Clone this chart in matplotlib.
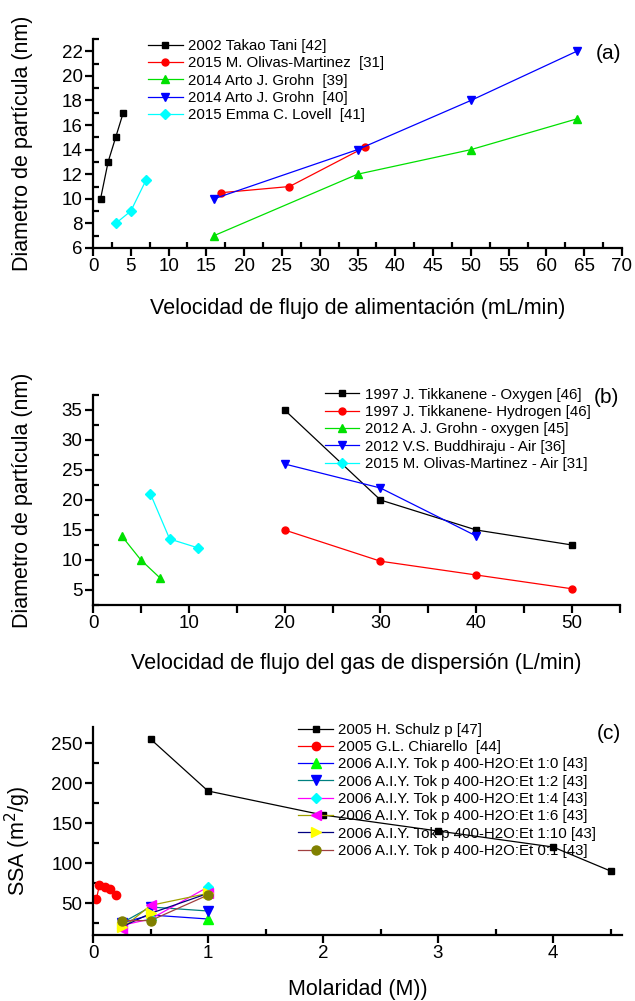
import matplotlib
matplotlib.use('Agg')
import matplotlib.pyplot as plt
from matplotlib.ticker import MultipleLocator

plt.rcParams['font.family'] = ['Liberation Sans', 'DejaVu Sans']

# (a) velocidad de flujo de alimentacion
tani_x = [1, 2, 3, 4]
tani_y = [10, 13, 15, 17]
olivas_x = [17, 26, 36]
olivas_y = [10.5, 11, 14.2]
grohn39_x = [16, 35, 50, 64]
grohn39_y = [7, 12, 14, 16.5]
grohn40_x = [16, 35, 50, 64]
grohn40_y = [10, 14, 18, 22]
lovell_x = [3, 5, 7]
lovell_y = [8, 9, 11.5]

# (b) velocidad de flujo del gas de dispersion
tikk_o2_x = [20, 30, 40, 50]
tikk_o2_y = [35, 20, 15, 12.5]
tikk_h2_x = [20, 30, 40, 50]
tikk_h2_y = [15, 9.8, 7.5, 5.2]
grohn_o2_x = [3, 5, 7]
grohn_o2_y = [14, 10, 7]
buddhi_x = [20, 30, 40]
buddhi_y = [26, 22, 14]
olivas_air_x = [6, 8, 11]
olivas_air_y = [21, 13.5, 12]

# (c) molaridad
schulz_x = [0.5, 1, 2, 3, 4, 4.5]
schulz_y = [255, 190, 160, 140, 120, 90]
chiarello_x = [0.03, 0.055, 0.1, 0.15, 0.2]
chiarello_y = [55, 72, 70, 68, 60]
tok_x = [0.25, 0.5, 1]
tok_10 = [25, 35, 30]
tok_12 = [25, 45, 40]
tok_14 = [22, 30, 70]
tok_16 = [18, 47, 62]
tok_110 = [20, 37, 62]
tok_01 = [28, 28, 60]

fig = plt.figure(figsize=(6.35, 10.01), dpi=100)

W = 635.0
H = 1001.0


def make_axes(left, top, right, bottom):
    return fig.add_axes([left / W, 1 - bottom / H, (right - left) / W, (bottom - top) / H])


def style(ax):
    for s in ['top', 'right']:
        ax.spines[s].set_visible(False)
    for s in ['left', 'bottom']:
        ax.spines[s].set_linewidth(1.6)
    ax.tick_params(which='major', direction='out', length=5.5, width=1.6, labelsize=13.5, pad=2)
    ax.tick_params(which='minor', direction='in', length=4, width=1.6)


def line(ax, x, y, color, marker, ms, label, mfc=None):
    ax.plot(x, y, color=color, marker=marker, markersize=ms, lw=0.9,
            markerfacecolor=mfc or color, markeredgecolor=mfc or color, label=label)


leg_kw = dict(frameon=False, fontsize=10.8, handlelength=2.3, handletextpad=0.35,
              labelspacing=0.22, numpoints=1, borderaxespad=0, borderpad=0)

# ---- panel a
ax1 = make_axes(93, 39, 622, 248)
style(ax1)
line(ax1, tani_x, tani_y, 'black', 's', 4.5, '2002 Takao Tani [42]')
line(ax1, olivas_x, olivas_y, '#FF0000', 'o', 5, '2015 M. Olivas-Martinez  [31]')
line(ax1, grohn39_x, grohn39_y, '#00E000', '^', 6, '2014 Arto J. Grohn  [39]')
line(ax1, grohn40_x, grohn40_y, '#0000FF', 'v', 6, '2014 Arto J. Grohn  [40]')
line(ax1, lovell_x, lovell_y, '#00FFFF', 'D', 5, '2015 Emma C. Lovell  [41]')
ax1.set_xlim(0, 70)
ax1.set_ylim(6, 23)
ax1.xaxis.set_major_locator(MultipleLocator(5))
ax1.xaxis.set_minor_locator(MultipleLocator(2.5))
ax1.yaxis.set_major_locator(MultipleLocator(2))
ax1.yaxis.set_minor_locator(MultipleLocator(1))
ax1.set_xlabel('Velocidad de flujo de alimentación (mL/min)', fontsize=15.5)
ax1.set_ylabel('Diametro de partícula (nm)', fontsize=15.5)
ax1.xaxis.set_label_coords(0.5, -0.24)
ax1.yaxis.set_label_coords(-0.113, 0.5)
ax1.legend(loc='upper left', bbox_to_anchor=(0.104, 1.0), **leg_kw)
ax1.text(0.975, 0.93, '(a)', transform=ax1.transAxes, fontsize=15, ha='center', va='center')

# ---- panel b
ax2 = make_axes(93, 395, 620, 605)
style(ax2)
line(ax2, tikk_o2_x, tikk_o2_y, 'black', 's', 4.5, '1997 J. Tikkanene - Oxygen [46]')
line(ax2, tikk_h2_x, tikk_h2_y, '#FF0000', 'o', 5, '1997 J. Tikkanene- Hydrogen [46]')
line(ax2, grohn_o2_x, grohn_o2_y, '#00E000', '^', 6, '2012 A. J. Grohn - oxygen [45]')
line(ax2, buddhi_x, buddhi_y, '#0000FF', 'v', 6, '2012 V.S. Buddhiraju - Air [36]')
line(ax2, olivas_air_x, olivas_air_y, '#00FFFF', 'D', 5, '2015 M. Olivas-Martinez - Air [31]')
ax2.set_xlim(0, 55)
ax2.set_ylim(2.5, 37.5)
ax2.set_xticks(list(range(0, 56, 5)))
ax2.set_xticklabels([str(v) if v % 10 == 0 else '' for v in range(0, 56, 5)])
ax2.yaxis.set_minor_locator(MultipleLocator(2.5))
ax2.set_yticks([5, 10, 15, 20, 25, 30, 35])
ax2.set_xlabel('Velocidad de flujo del gas de dispersión (L/min)', fontsize=15.5)
ax2.set_ylabel('Diametro de partícula (nm)', fontsize=15.5)
ax2.xaxis.set_label_coords(0.5, -0.23)
ax2.yaxis.set_label_coords(-0.113, 0.5)
ax2.legend(loc='upper left', bbox_to_anchor=(0.44, 1.035), **leg_kw)
ax2.text(0.975, 0.99, '(b)', transform=ax2.transAxes, fontsize=15, ha='center', va='center')

# ---- panel c
ax3 = make_axes(93, 727, 622, 935)
style(ax3)
line(ax3, schulz_x, schulz_y, 'black', 's', 5, '2005 H. Schulz p [47]')
line(ax3, chiarello_x, chiarello_y, '#FF0000', 'o', 6, '2005 G.L. Chiarello  [44]')
line(ax3, tok_x, tok_10, '#0000FF', '^', 6.5, '2006 A.I.Y. Tok p 400-H2O:Et 1:0 [43]', mfc='#00FF00')
line(ax3, tok_x, tok_12, '#008080', 'v', 6.5, '2006 A.I.Y. Tok p 400-H2O:Et 1:2 [43]', mfc='#0000FF')
line(ax3, tok_x, tok_14, '#FF00FF', 'D', 5.5, '2006 A.I.Y. Tok p 400-H2O:Et 1:4 [43]', mfc='#00FFFF')
line(ax3, tok_x, tok_16, '#A0A000', '<', 6.5, '2006 A.I.Y. Tok p 400-H2O:Et 1:6 [43]', mfc='#FF00FF')
line(ax3, tok_x, tok_110, '#000080', '>', 6.5, '2006 A.I.Y. Tok p 400-H2O:Et 1:10 [43]', mfc='#FFFF00')
line(ax3, tok_x, tok_01, '#A04040', 'o', 6.5, '2006 A.I.Y. Tok p 400-H2O:Et 0:1 [43]', mfc='#808000')
ax3.set_xlim(0, 4.6)
ax3.set_ylim(10, 270)
ax3.xaxis.set_major_locator(MultipleLocator(1))
ax3.xaxis.set_minor_locator(MultipleLocator(0.5))
ax3.yaxis.set_minor_locator(MultipleLocator(25))
ax3.set_yticks([50, 100, 150, 200, 250])
ax3.set_xlabel('Molaridad (M))', fontsize=15.5)
ax3.set_ylabel('SSA (m$^2$/g)', fontsize=15.5)
ax3.xaxis.set_label_coords(0.5, -0.21)
ax3.yaxis.set_label_coords(-0.113, 0.45)
ax3.legend(loc='upper left', bbox_to_anchor=(0.388, 1.02), **leg_kw)
ax3.text(0.975, 0.97, '(c)', transform=ax3.transAxes, fontsize=15, ha='center', va='center')

fig.savefig('out.png', dpi=100)
